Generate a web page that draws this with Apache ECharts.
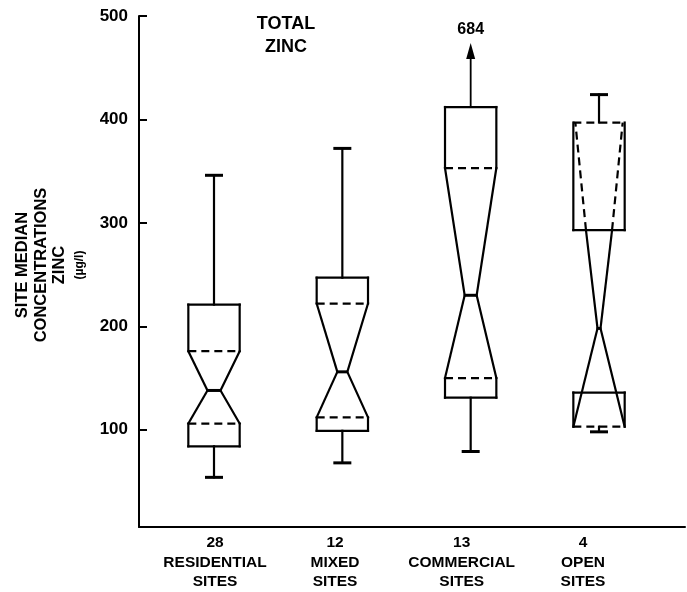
<!DOCTYPE html>
<html>
<head>
<meta charset="utf-8">
<script src="https://cdn.jsdelivr.net/npm/echarts@6/dist/echarts.min.js"></script>
<style>html,body{margin:0;padding:0;background:#fff;}#chart{width:687px;height:592px;}</style>
</head>
<body>
<div id="chart"></div>
<script>
// ---- data ----
const categories = ['RESIDENTIAL\nSITES', 'MIXED\nSITES', 'COMMERCIAL\nSITES', 'OPEN\nSITES'];
const siteCounts = [28, 12, 13, 4];
const lowerWhisker = [54, 68, 79, 98];
const lowerHinge = [84, 99, 131, 136];
const lowerNotch = [106, 112, 150, 103];
const medianValues = [138, 156, 230, 198];
const upperNotch = [176, 222, 353, 397];
const upperHinge = [221, 247, 412, 293];
const upperWhisker = [346, 372, 684, 424];
const yTickValues = [100, 200, 300, 400, 500];
const titleLines = ['TOTAL', 'ZINC'];
const yTitleLines = ['SITE MEDIAN', 'CONCENTRATIONS', 'ZINC', '(\u00b5g/l)'];

// ---- styles / layout ----
const Y_MIN = 6, Y_MAX = 500;
const waistHalf = [6.5, 5, 6, 1.5];
const labelPos = [1.008, 1.943, 2.93, 3.875];
const INK = '#000';
const LW = 2.2;
const boxData = categories.map((c, i) => [i + 1, lowerWhisker[i], lowerHinge[i], lowerNotch[i], medianValues[i], upperNotch[i], upperHinge[i], upperWhisker[i]]);

function renderItem(params, api) {
  const xv = api.value(0);
  const lw = api.value(1), q1 = api.value(2), ln = api.value(3), med = api.value(4),
        un = api.value(5), q3 = api.value(6), uw = api.value(7);
  const idx = params.dataIndex;
  const Y = v => api.coord([xv, v])[1];
  const cx = api.coord([xv, med])[0];
  const hw = api.size([1, 0])[0] * 0.2;
  const L = cx - hw, R = cx + hw;
  const w = waistHalf[idx];
  const cs = params.coordSys;
  const solid = { stroke: INK, lineWidth: LW, fill: null, lineCap: 'square' };
  const dashed = { stroke: INK, lineWidth: LW, fill: null, lineDash: [8, 5] };
  const ch = [];
  const line = (x1, y1, x2, y2, st) => ch.push({ type: 'line', shape: { x1, y1, x2, y2 }, style: st });
  const yq1 = Y(q1), yln = Y(ln), ymed = Y(med), yun = Y(un), yq3 = Y(q3);
  // lower part
  line(L, yq1, L, yln, solid); line(R, yq1, R, yln, solid);
  line(L, yq1, R, yq1, solid);
  line(L, yln, R, yln, dashed);
  line(L, yln, cx - w, ymed, solid); line(R, yln, cx + w, ymed, solid);
  // upper part
  line(L, yq3, L, yun, solid); line(R, yq3, R, yun, solid);
  line(L, yq3, R, yq3, solid);
  line(L, yun, R, yun, dashed);
  if (un > q3) {
    const t = (q3 - med) / (un - med);
    const xl = (cx - w) + (L - (cx - w)) * t, xr = (cx + w) + (R - (cx + w)) * t;
    line(cx - w, ymed, xl, yq3, solid); line(cx + w, ymed, xr, yq3, solid);
    line(xl, yq3, L + 2, yun, dashed); line(xr, yq3, R - 2, yun, dashed);
  } else {
    line(cx - w, ymed, L, yun, solid); line(cx + w, ymed, R, yun, solid);
  }
  // median waist
  line(cx - w, ymed, cx + w, ymed, { stroke: INK, lineWidth: 3 });
  // whiskers
  const capW = 9;
  const yTop = Y(Math.max(q3, un));
  if (uw > Y_MAX) {
    const tip = cs.y + 27;
    line(cx, yTop, cx, tip + 12, { stroke: INK, lineWidth: 1.8 });
    ch.push({ type: 'polygon', shape: { points: [[cx, tip], [cx - 4.5, tip + 16], [cx + 4.5, tip + 16]] }, style: { fill: INK } });
    ch.push({ type: 'text', x: cx, y: tip - 13, style: { text: String(uw), fontSize: 16, fontWeight: 'bold', fontFamily: 'Liberation Sans', textAlign: 'center', textVerticalAlign: 'middle', fill: INK } });
  } else {
    const yuw = Y(uw);
    line(cx, yTop, cx, yuw, solid);
    line(cx - capW, yuw, cx + capW, yuw, { stroke: INK, lineWidth: 3 });
  }
  const yBot = Y(Math.min(q1, ln));
  const ylw = Y(lw);
  line(cx, yBot, cx, ylw, solid);
  line(cx - capW, ylw, cx + capW, ylw, { stroke: INK, lineWidth: 3 });
  return { type: 'group', children: ch };
}

const chart = echarts.init(document.getElementById('chart'), null, { renderer: 'canvas' });
const graphics = [];
titleLines.forEach((t, i) => graphics.push({
  type: 'text', x: 286, y: 24 + i * 23.5,
  style: { text: t, fontSize: 18, fontWeight: 'bold', fontFamily: 'Liberation Sans', textAlign: 'center', textVerticalAlign: 'middle', fill: INK }
}));
const yTitleX = [22, 41, 59, 80];
yTitleLines.forEach((t, i) => graphics.push({
  type: 'text', x: yTitleX[i], y: 265, rotation: Math.PI / 2,
  style: { text: t, fontSize: i === 3 ? 12 : 16.5, fontWeight: 'bold', fontFamily: 'Liberation Sans', textAlign: 'center', textVerticalAlign: 'middle', fill: INK }
}));

chart.setOption({
  backgroundColor: '#fff',
  animation: false,
  graphic: graphics,
  grid: { left: 139, right: 2, top: 16, bottom: 65, containLabel: false },
  xAxis: {
    type: 'value', min: 0.4156, max: 4.67, position: 'bottom',
    axisLine: { onZero: false, lineStyle: { color: INK, width: 2 } },
    axisTick: { show: false },
    splitLine: { show: false },
    axisLabel: {
      customValues: labelPos,
      margin: 6,
      color: INK, fontSize: 15.5, fontWeight: 'bold', fontFamily: 'Liberation Sans',
      lineHeight: 19.5, align: 'center',
      formatter: v => { const i = Math.round(v) - 1; return siteCounts[i] + '\n' + categories[i]; }
    }
  },
  yAxis: {
    type: 'value', min: Y_MIN, max: Y_MAX,
    axisLine: { show: true, lineStyle: { color: INK, width: 2 } },
    axisTick: { show: true, inside: true, length: 8, customValues: yTickValues, lineStyle: { color: INK, width: 2 } },
    splitLine: { show: false },
    axisLabel: { customValues: yTickValues, margin: 11, color: INK, fontSize: 17, fontWeight: 'bold', fontFamily: 'Liberation Sans' }
  },
  series: [{
    type: 'custom', renderItem: renderItem, data: boxData, clip: false,
    encode: { x: 0, y: [1, 2, 3, 4, 5, 6, 7] }
  }]
});
</script>
</body>
</html>
